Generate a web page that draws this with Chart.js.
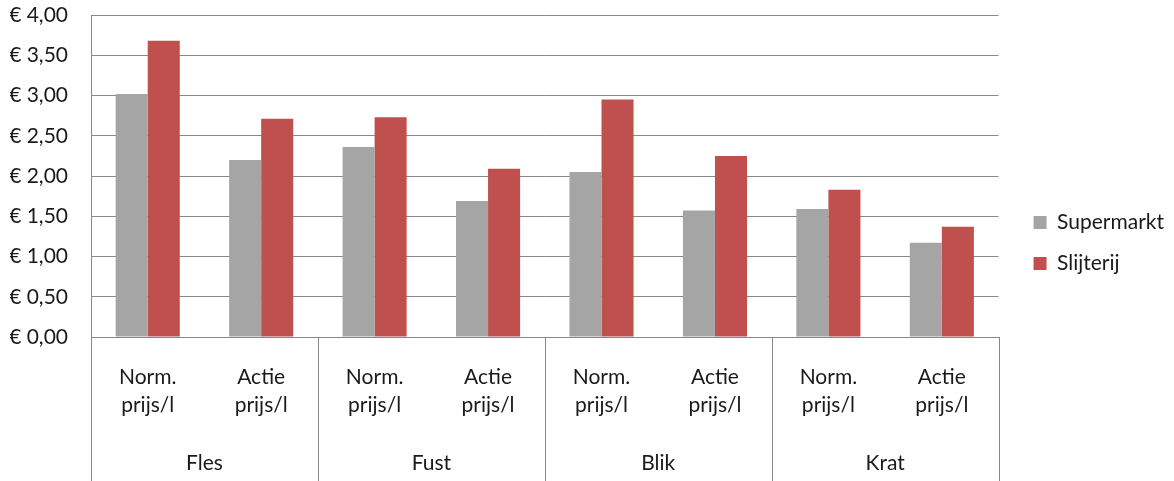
<!DOCTYPE html>
<html>
<head>
<meta charset="utf-8">
<script src="https://cdn.jsdelivr.net/npm/chart.js@4.4.0/dist/chart.umd.min.js"></script>
<style>
  html, body { margin: 0; padding: 0; background: #ffffff; }
  #wrap { width: 1174px; height: 481px; position: relative; }
</style>
</head>
<body>
<div id="wrap"><canvas id="c"></canvas></div>
<script>
// Packaging groups and the two price types shown for each
const groups = ['Fles', 'Fust', 'Blik', 'Krat'];
const priceTypes = [['Norm.', 'prijs/l'], ['Actie', 'prijs/l']];

// Price per litre (EUR)
const supermarkt = [3.02, 2.20, 2.36, 1.69, 2.05, 1.57, 1.59, 1.17];
const slijterij  = [3.68, 2.71, 2.73, 2.09, 2.95, 2.25, 1.83, 1.37];

// Value axis
const yMin = 0;
const yMax = 4;
const yStep = 0.5;

const categories = groups.flatMap(() => priceTypes);

const FONT = 'Lato, "Liberation Sans", sans-serif';
const FONT_SIZE = 21;
const TEXT = '#1a1a1a';
const LINE = '#888888';

const euro = v => '\u20AC ' + Number(v).toFixed(2).replace('.', ',');

// Outer category row: group separators below the plot and group names
const groupAxis = {
  id: 'groupAxis',
  afterDraw(chart) {
    const { ctx, chartArea, scales } = chart;
    const x = scales.x;
    const per = categories.length / groups.length;
    const bottom = chart.height;
    ctx.save();
    ctx.strokeStyle = LINE;
    ctx.lineWidth = 1;
    const edges = [];
    for (let g = 0; g <= groups.length; g++) {
      let px;
      if (g === 0) px = chartArea.left;
      else if (g === groups.length) px = chartArea.right;
      else px = (x.getPixelForValue(g * per - 1) + x.getPixelForValue(g * per)) / 2;
      edges.push(px);
      const xx = Math.round(px) + 0.5;
      ctx.beginPath();
      ctx.moveTo(xx, chartArea.bottom);
      ctx.lineTo(xx, bottom);
      ctx.stroke();
    }
    ctx.fillStyle = TEXT;
    ctx.font = FONT_SIZE + 'px ' + FONT;
    ctx.textAlign = 'center';
    ctx.textBaseline = 'middle';
    groups.forEach((name, g) => {
      ctx.fillText(name, (edges[g] + edges[g + 1]) / 2, 463);
    });
    ctx.restore();
  }
};

new Chart(document.getElementById('c'), {
  type: 'bar',
  data: {
    labels: categories,
    datasets: [
      { label: 'Supermarkt', data: supermarkt, backgroundColor: '#a5a5a5', borderWidth: 0 },
      { label: 'Slijterij',  data: slijterij,  backgroundColor: '#c0504d', borderWidth: 0 }
    ]
  },
  options: {
    responsive: true,
    maintainAspectRatio: false,
    animation: false,
    events: [],
    layout: { padding: { left: 10, top: 15, right: 0, bottom: 10 } },
    datasets: { bar: { barPercentage: 1.0, categoryPercentage: 0.565 } },
    plugins: {
      tooltip: { enabled: false },
      legend: {
        position: 'right',
        labels: {
          color: TEXT,
          font: { family: FONT, size: FONT_SIZE },
          boxWidth: 13,
          boxHeight: 13,
          padding: 20
        }
      }
    },
    scales: {
      x: {
        grid: { display: true, drawOnChartArea: false, drawTicks: false, color: LINE },
        border: { display: true, color: LINE, width: 1 },
        ticks: {
          color: TEXT,
          font: { family: FONT, size: FONT_SIZE, lineHeight: 1.33 },
          padding: 26,
          maxRotation: 0,
          autoSkip: false
        },
        afterFit(scale) { scale.height = 134; }
      },
      y: {
        min: yMin,
        max: yMax,
        grid: { color: LINE, lineWidth: 1, drawTicks: true, tickLength: 23, tickColor: 'rgba(0,0,0,0)' },
        border: { display: true, color: LINE, width: 1 },
        ticks: {
          stepSize: yStep,
          color: TEXT,
          font: { family: FONT, size: FONT_SIZE },
          padding: 0,
          callback: v => euro(v)
        },
        afterFit(scale) { scale.width = 81; }
      },
      // empty gutter between the plot and the legend
      gutter: {
        type: 'linear',
        position: 'right',
        display: true,
        grid: { display: false },
        border: { display: false },
        ticks: { display: false },
        afterFit(scale) { scale.width = 15; }
      }
    }
  },
  plugins: [groupAxis]
});
</script>
</body>
</html>
